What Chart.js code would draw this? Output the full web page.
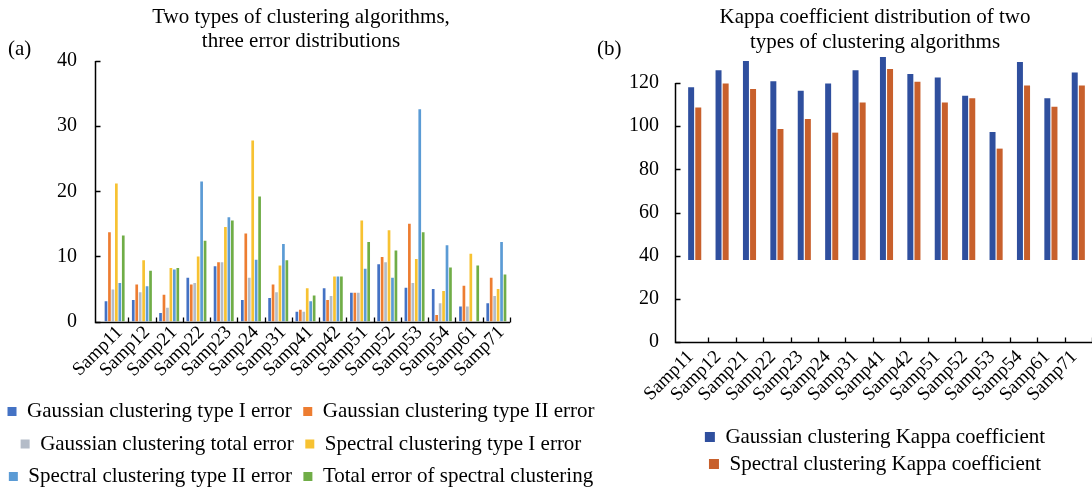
<!DOCTYPE html>
<html>
<head>
<meta charset="utf-8">
<script src="https://cdn.jsdelivr.net/npm/chart.js@4.4.1/dist/chart.umd.min.js"></script>
<style>
  body { margin: 0; background: #fff; overflow: hidden; width: 1092px; height: 491px; position: relative; }
  .box { position: absolute; top: 0; }
  .tag { position: absolute; font: 21px 'Liberation Serif', serif; color: #000; }
</style>
</head>
<body>
<div class="box" style="left:-15px;width:632px;height:497px"><canvas id="errChart"></canvas></div>
<div class="box" style="left:600px;width:550px;height:491px"><canvas id="kappaChart"></canvas></div>
<div class="tag" style="left:8px;top:36px">(a)</div>
<div class="tag" style="left:597px;top:36px">(b)</div>
<script>
// sample names shared by both panels
const samples = ['Samp11', 'Samp12', 'Samp21', 'Samp22', 'Samp23', 'Samp24', 'Samp31', 'Samp41',
    'Samp42', 'Samp51', 'Samp52', 'Samp53', 'Samp54', 'Samp61', 'Samp71'];

// (a) error values
const gaussType1 = [3.1, 3.3, 1.3, 6.7, 8.5, 3.3, 3.6, 1.5, 5.1, 4.4, 8.8, 5.2, 5.0, 2.3, 2.8];
const gaussType2 = [13.7, 5.7, 4.1, 5.7, 9.1, 13.5, 5.7, 1.8, 3.3, 4.4, 9.9, 15.0, 1.0, 5.5, 6.7];
const gaussTotal = [4.9, 4.5, 2.1, 5.9, 9.1, 6.7, 4.5, 1.5, 3.9, 4.4, 9.1, 5.9, 2.8, 2.3, 3.9];
const specType1 = [21.2, 9.4, 8.2, 10.0, 14.5, 27.8, 8.6, 5.1, 6.9, 15.5, 14.0, 9.6, 4.7, 10.4, 5.0];
const specType2 = [5.9, 5.4, 8.0, 21.5, 16.0, 9.5, 11.9, 3.1, 6.9, 8.1, 6.7, 32.6, 11.7, 0, 12.2];
const specTotal = [13.2, 7.8, 8.2, 12.4, 15.5, 19.2, 9.4, 4.0, 6.9, 12.2, 10.9, 13.7, 8.3, 8.6, 7.2];

// (b) kappa values (bars start at the floor value)
const kappaFloor = 38;
const kappaGauss = [118, 125.9, 130.2, 120.8, 116.4, 119.8, 125.9, 132, 124.2, 122.5, 114.1, 97.3, 129.7, 112.9, 124.9];
const kappaSpec = [108.7, 119.8, 117.2, 98.7, 103.3, 97, 111, 126.5, 120.6, 111, 112.9, 89.6, 118.8, 109, 118.8];

const serif = "'Liberation Serif', 'Times New Roman', serif";
Chart.defaults.font.family = serif;
Chart.defaults.color = '#000';

// axis lines plus small tick marks on the inside of both axes
// (gap = distance between the y axis line and the first category)
const innerTicks = {
    id: 'innerTicks',
    afterDraw(chart, args, opts) {
        const {ctx, chartArea} = chart;
        const x = chart.scales.x, y = chart.scales.y;
        const axisLeft = Math.round(chartArea.left - (opts.gap || 0)) + 0.5;
        const axisBottom = Math.round(chartArea.bottom) + 0.5;
        ctx.save();
        ctx.strokeStyle = '#000';
        ctx.lineWidth = 1.5;
        ctx.beginPath();
        ctx.moveTo(axisLeft, Math.round(chartArea.top));
        ctx.lineTo(axisLeft, axisBottom);
        ctx.lineTo(chartArea.right, axisBottom);
        ctx.stroke();

        ctx.lineWidth = 1.3;
        ctx.beginPath();
        y.ticks.forEach((t, i) => {
            const py = Math.round(y.getPixelForTick(i)) + 0.5;
            ctx.moveTo(axisLeft, py);
            ctx.lineTo(axisLeft + 5, py);
        });
        const step = x.getPixelForTick(1) - x.getPixelForTick(0);
        for (let i = 1; i <= x.ticks.length; i++) {
            const px = Math.round(x.getPixelForTick(0) - step / 2 + i * step) + 0.5;
            ctx.moveTo(px, axisBottom);
            ctx.lineTo(px, axisBottom - 5);
        }
        ctx.stroke();
        ctx.restore();
    }
};

function axisX(height, shift, pad) {
    return {
        grid: {display: false, drawTicks: false, tickLength: 0},
        border: {display: false},
        ticks: {font: {size: 19}, autoSkip: false, minRotation: 45, maxRotation: 45,
            padding: pad, labelOffset: shift},
        afterFit: (s) => { s.height = height; }
    };
}

function axisY(width, max, step, pad) {
    return {
        min: 0,
        max: max,
        grid: {display: false, drawTicks: false, tickLength: 0},
        border: {display: false},
        ticks: {font: {size: 20}, stepSize: step, padding: pad},
        afterFit: (s) => { s.width = width; }
    };
}

// empty axis on the right, only reserves room so title/legend stay centred
function spacer(width) {
    return {
        position: 'right',
        display: true,
        grid: {display: false},
        border: {display: false},
        ticks: {display: false},
        afterFit: (s) => { s.width = width; }
    };
}

// -----------------------------
// (a) error bars
// -----------------------------
const errColors = ['#4472c4', '#ed7d31', '#b4bcc8', '#f7c232', '#5b9bd5', '#70ad47'];
const errNames = ['Gaussian clustering type I error', 'Gaussian clustering type II error',
    'Gaussian clustering total error', 'Spectral clustering type I error',
    'Spectral clustering type II error', 'Total error of spectral clustering'];
const errSeries = [gaussType1, gaussType2, gaussTotal, specType1, specType2, specTotal];

new Chart(document.getElementById('errChart'), {
    type: 'bar',
    data: {
        labels: samples,
        datasets: errSeries.map((vals, i) => ({
            label: errNames[i],
            data: vals,
            backgroundColor: errColors[i],
            borderWidth: 0,
            categoryPercentage: 0.76,
            barPercentage: 0.78
        }))
    },
    options: {
        responsive: true,
        maintainAspectRatio: false,
        animation: false,
        layout: {padding: {top: 0, bottom: 0, left: 0, right: 0}},
        plugins: {
            title: {
                display: true,
                text: ['Two types of clustering algorithms,', 'three error distributions'],
                font: {size: 21, weight: 'normal', lineHeight: 24 / 21},
                color: '#000',
                padding: {top: 5, bottom: 8}
            },
            legend: {
                position: 'bottom',
                labels: {font: {size: 21}, boxWidth: 9, boxHeight: 9, padding: 11.5, color: '#000'}
            },
            tooltip: {enabled: false},
            innerTicks: {gap: 6}
        },
        scales: {
            x: axisX(68, 5, 0),
            y: axisY(116, 40, 10, 24),
            pad: spacer(107)
        }
    },
    plugins: [innerTicks]
});

// -----------------------------
// (b) kappa bars
// -----------------------------
new Chart(document.getElementById('kappaChart'), {
    type: 'bar',
    data: {
        labels: samples,
        datasets: [
            {label: 'Gaussian clustering Kappa coefficient', data: kappaGauss.map(v => [kappaFloor, v]),
                backgroundColor: '#2f4f9e', borderWidth: 0, clip: false,
                categoryPercentage: 0.52, barPercentage: 0.84},
            {label: 'Spectral clustering Kappa coefficient', data: kappaSpec.map(v => [kappaFloor, v]),
                backgroundColor: '#c8602c', borderWidth: 0, clip: false,
                categoryPercentage: 0.52, barPercentage: 0.84}
        ]
    },
    options: {
        responsive: true,
        maintainAspectRatio: false,
        animation: false,
        layout: {padding: {top: 0, bottom: 6.5, left: 0, right: 0}},
        plugins: {
            title: {
                display: true,
                text: ['Kappa coefficient distribution of two', 'types of clustering algorithms'],
                font: {size: 21, weight: 'normal', lineHeight: 25 / 21},
                color: '#000',
                padding: {top: 4.5, bottom: 28.5}
            },
            legend: {
                position: 'bottom',
                labels: {font: {size: 21}, boxWidth: 10, boxHeight: 10, padding: 6, color: '#000'}
            },
            tooltip: {enabled: false},
            innerTicks: {gap: 6}
        },
        scales: {
            x: axisX(78.5, -4, 4),
            y: axisY(81, 120, 20, 22),
            pad: spacer(58)
        }
    },
    plugins: [innerTicks]
});
</script>
</body>
</html>
